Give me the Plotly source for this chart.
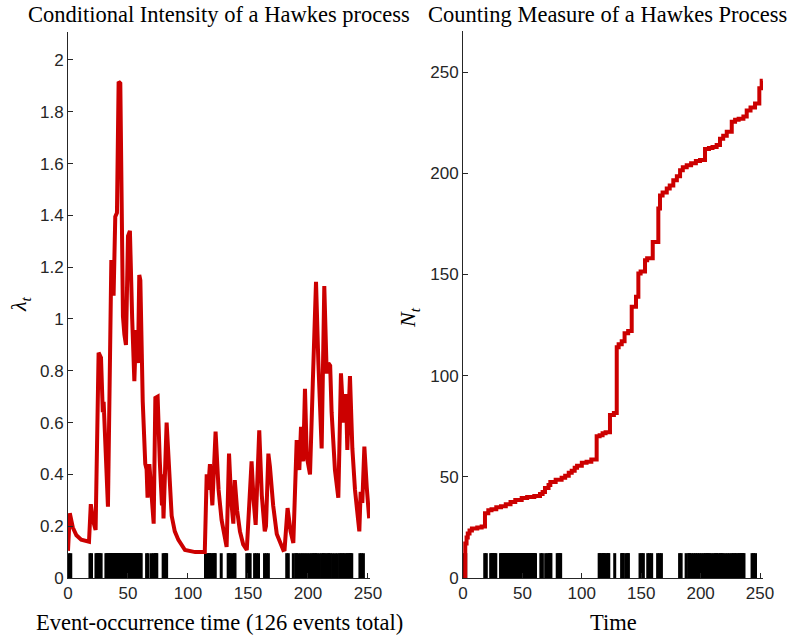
import plotly.graph_objects as go

# ---------------- data ----------------
# conditional intensity (vertices of the red curve)
lam_t = [0, 1.5, 4, 7, 11, 17.5, 19, 21, 23, 25.5, 27.5, 29, 29.7, 31.5, 33.3,
         36.1, 37.2, 38, 39.4, 40.8, 42.2, 43.6, 45.8, 47, 48.3, 50, 51.6, 53.5,
         55.3, 56.7, 58.3, 59.4, 60.3, 62.3, 64.4, 65.5, 66.3, 67.8, 69.5, 71.4,
         72.8, 74.7, 76.5, 78.3, 78.8, 79.6, 82.2, 84, 86.4, 89, 92, 97.5, 106,
         114, 115.6, 116.8, 118.3, 120.3, 123, 125.5, 128, 132.2, 134.2, 136,
         137.8, 139, 141, 143.3, 146, 149, 153, 154.7, 156.4, 159.4, 161.5, 164,
         165, 167, 168.3, 171, 174, 179.4, 180.5, 183, 185.5, 187.8, 190.6, 192.8,
         194.2, 196, 197.5, 199, 201.7, 204, 206.7, 208.6, 211.4, 213.6, 215.6,
         217, 218.5, 219.7, 222.5, 225.3, 227.5, 229.7, 231.7, 232.8, 235, 237,
         239.2, 242.8, 243.9, 245.3, 247, 249, 251]
lam_v = [0.105, 0.25, 0.195, 0.165, 0.148, 0.14, 0.285, 0.22, 0.185, 0.87, 0.85,
         0.64, 0.68, 0.45, 0.275, 1.22, 1.22, 1.09, 1.395, 1.41, 1.916, 1.91,
         1.01, 0.94, 0.9, 1.32, 1.34, 1.0, 0.76, 0.957, 0.83, 1.17, 1.15, 0.68,
         0.44, 0.42, 0.31, 0.44, 0.3, 0.21, 0.695, 0.70, 0.45, 0.28, 0.40, 0.23,
         0.60, 0.42, 0.24, 0.18, 0.147, 0.108, 0.1, 0.1, 0.40, 0.34, 0.44, 0.28,
         0.565, 0.34, 0.224, 0.12, 0.48, 0.3, 0.21, 0.378, 0.26, 0.18, 0.13,
         0.108, 0.45, 0.3, 0.205, 0.57, 0.32, 0.18, 0.2, 0.48, 0.43, 0.28, 0.17,
         0.108, 0.11, 0.27, 0.18, 0.135, 0.533, 0.417, 0.584, 0.45, 0.73, 0.47,
         0.4, 0.75, 1.144, 0.84, 0.50, 1.127, 0.79, 0.83, 0.82, 0.64, 0.417,
         0.31, 0.79, 0.6, 0.71, 0.494, 0.78, 0.5, 0.34, 0.18, 0.333, 0.29, 0.507,
         0.35, 0.23]

# counting measure (step corners of the red staircase)
cnt_t = [1.7, 1.9, 3.0, 4.0, 5.5, 7.5, 12, 15.7, 18.5, 21.3, 24, 28, 32, 36, 40,
         44, 49.4, 54, 60, 64.8, 67, 69, 72, 73.5, 78, 83, 86, 89, 91.5, 94, 96,
         100, 104, 108, 112.5, 115, 117.5, 120, 123.7, 127, 129.4, 131, 133.6,
         136, 139, 142, 145.6, 147.6, 149.5, 153.2, 155, 159.7, 164.4, 165.8,
         168, 171.5, 174, 177, 180, 182.7, 185, 188.3, 192, 196, 199.5, 203.7,
         207, 210, 213.5, 216.3, 219, 222, 226.2, 229, 232, 236, 238.8, 242,
         245.8, 249.4, 251.4, 252.3]
cnt_v = [0, 17, 20, 22, 23.5, 24.5, 25, 25.5, 32, 33.5, 34, 35, 35.5, 36.5, 37.5,
         38.5, 39.5, 40, 40.5, 41.5, 42.5, 44.5, 46, 47.5, 48.5, 49.5, 50.5, 52,
         53, 54.5, 55.5, 57, 57.5, 58.5, 70, 70.5, 71.5, 72, 80.5, 81.5, 114,
         115.5, 117, 121, 122, 134, 139, 150.5, 151.5, 157, 158, 166, 182.6, 189,
         190.5, 192.5, 194, 196.5, 198.5, 201.5, 203, 204, 205, 206, 206.5, 212,
         212.5, 213, 214, 217, 218.5, 220.5, 225.5, 226.5, 227, 228, 231, 232.5,
         234.5, 242, 245.7, 245.7]

# event occurrence times (126 events)
events = [0.9, 2.3, 18.3, 19.6, 23.3, 24.2, 24.9, 25.4, 26.5, 27.6,
          31.6, 32.4, 33.5, 34.3, 35.0, 35.6, 36.1, 37.0, 37.8, 38.6,
          39.3, 39.9, 40.6, 41.2, 41.8, 42.2, 42.9, 43.5, 44.3, 45.2,
          46.1, 46.9, 47.8, 48.6, 49.4, 50.0, 50.8, 51.5, 52.4, 53.3,
          54.2, 55.1, 55.9, 56.6, 57.4, 58.3, 59.0, 59.5, 60.2, 61.0,
          65.5, 66.8, 69.6, 71.5, 72.6, 73.5, 74.0, 79.3, 80.5, 81.5, 82.2,
          114.6, 115.2, 116.5, 117.8, 118.3, 119.5, 121.0, 122.2, 122.7, 127.7,
          133.5, 134.2, 134.8, 137.0, 138.7, 139.2, 149.0, 150.5, 151.8,
          155.5, 157.0, 158.8, 163.8, 165.5, 167.0, 182.3, 183.6,
          187.8, 189.9, 190.6, 192.3, 194.2, 195.8, 197.5, 199.2, 201.0, 202.8,
          204.1, 205.4, 206.5, 207.6, 209.4, 211.3, 212.6, 213.5, 215.0, 216.6,
          217.5, 218.6, 220.5, 222.6, 224.5, 226.4, 227.4, 228.9, 229.9, 231.6,
          232.7, 233.9, 234.8, 235.6, 236.5, 243.3, 244.5, 246.2]

x_ticks = [0, 50, 100, 150, 200, 250]
lam_ticks = [0, 0.2, 0.4, 0.6, 0.8, 1, 1.2, 1.4, 1.6, 1.8, 2]
lam_tick_text = ["0", "0.2", "0.4", "0.6", "0.8", "1", "1.2", "1.4", "1.6", "1.8", "2"]
cnt_ticks = [0, 50, 100, 150, 200, 250]

# ---------------- figure ----------------
W, H = 797, 637
RED = "#CC0000"
AX = "#262626"

rug_lam_h = 0.05 * max(lam_v)
rug_cnt_h = 0.05 * max(cnt_v)

def rug(h):
    xs, ys = [], []
    for e in events:
        xs += [e, e, None]
        ys += [0, h, None]
    return xs, ys

fig = go.Figure()
rx, ry = rug(rug_lam_h)
fig.add_trace(go.Scatter(x=rx, y=ry, mode="lines", line=dict(color="black", width=3),
                         xaxis="x", yaxis="y", hoverinfo="skip"))
fig.add_trace(go.Scatter(x=lam_t, y=lam_v, mode="lines", line=dict(color=RED, width=4),
                         xaxis="x", yaxis="y"))
rx2, ry2 = rug(rug_cnt_h)
fig.add_trace(go.Scatter(x=rx2, y=ry2, mode="lines", line=dict(color="black", width=3),
                         xaxis="x2", yaxis="y2", hoverinfo="skip"))
fig.add_trace(go.Scatter(x=cnt_t, y=cnt_v, mode="lines", line=dict(color=RED, width=4, shape="hv"),
                         xaxis="x2", yaxis="y2"))

tickfont = dict(family="Liberation Sans, Arial, sans-serif", size=17, color=AX)
common = dict(showline=True, linecolor=AX, linewidth=1, ticks="inside", ticklen=5,
              tickcolor=AX, showgrid=False, zeroline=False, tickfont=tickfont, mirror=False,
              automargin=False)

ybot = 1 - 578 / H
fig.update_layout(
    width=W, height=H, margin=dict(l=0, r=0, t=0, b=0, autoexpand=False),
    paper_bgcolor="white", plot_bgcolor="white", showlegend=False,
    xaxis=dict(domain=[68 / W, 370 / W], range=[0, 251.7], tickvals=x_ticks, anchor="y", **common),
    yaxis=dict(domain=[ybot, 1 - 32 / H], range=[0, 2.108], tickvals=lam_ticks,
               ticktext=lam_tick_text, anchor="x", **common),
    xaxis2=dict(domain=[463 / W, 763 / W], range=[0, 252.5], tickvals=x_ticks, anchor="y2", **common),
    yaxis2=dict(domain=[ybot, 1 - 31 / H], range=[0, 270.3], tickvals=cnt_ticks, anchor="x2", **common),
)

serif = "Liberation Serif, Times New Roman, serif"
ann = [
    dict(text="Conditional Intensity of a Hawkes process", x=219 / W, y=1 - 14 / H, size=22.5),
    dict(text="Counting Measure of a Hawkes Process", x=607 / W, y=1 - 14 / H, size=22.5),
    dict(text="Event-occurrence time (126 events total)", x=219 / W, y=1 - 622 / H, size=22.5),
    dict(text="Time", x=613 / W, y=1 - 622 / H, size=22.5),
]
for a in ann:
    fig.add_annotation(text=a["text"], x=a["x"], y=a["y"], xref="paper", yref="paper",
                       showarrow=False, xanchor="center", yanchor="middle",
                       font=dict(family=serif, size=a["size"], color="black"))
fig.add_annotation(text="<i>λ</i><sub><i>t</i></sub>", x=20 / W, y=1 - 304 / H, xref="paper",
                   yref="paper", showarrow=False, textangle=-90, xanchor="center", yanchor="middle",
                   font=dict(family=serif, size=22, color="black"))
fig.add_annotation(text="<i>N</i><sub><i>t</i></sub>", x=409 / W, y=1 - 318 / H, xref="paper",
                   yref="paper", showarrow=False, textangle=-90, xanchor="center", yanchor="middle",
                   font=dict(family=serif, size=22, color="black"))

fig.write_html("out.html", config={"displayModeBar": False},
               post_script="document.body.style.margin='0';document.body.style.overflow='hidden';")
